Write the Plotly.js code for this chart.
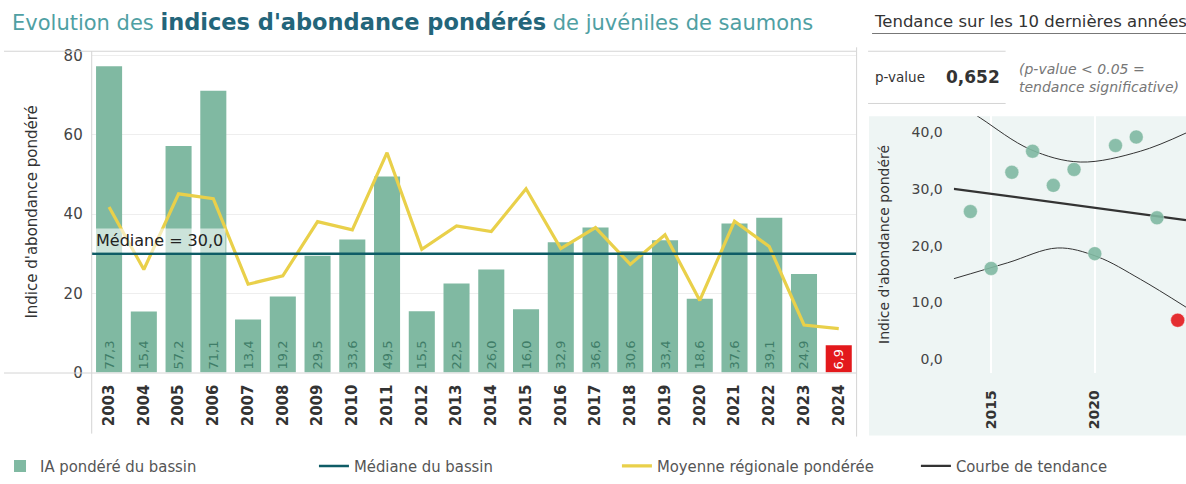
<!DOCTYPE html>
<html>
<head>
<meta charset="utf-8">
<script src="https://cdn.plot.ly/plotly-3.0.1.min.js"></script>
<style>
html,body{margin:0;padding:0;background:#fff;overflow:hidden;}
#chart{width:1186px;height:484px;}
</style>
</head>
<body>
<div id="chart"></div>
<script>
// ---------- data ----------
const years = ['2003','2004','2005','2006','2007','2008','2009','2010','2011','2012','2013','2014','2015','2016','2017','2018','2019','2020','2021','2022','2023','2024'];
const iaBassin = [77.3,15.4,57.2,71.1,13.4,19.2,29.5,33.6,49.5,15.5,22.5,26.0,16.0,32.9,36.6,30.6,33.4,18.6,37.6,39.1,24.9,6.9];
const moyenneRegionale = [41.8,26.0,45.1,43.9,22.3,24.4,38.1,36.0,55.5,31.1,37.0,35.6,46.4,31.3,36.6,27.3,34.8,18.2,38.2,31.8,12.0,11.1];
const medianeBassin = 30.0;
const highlightYear = '2024';
const recentCount = 11;
const pValue = '0,652';
const trendX = [2013.2, 2024.4];
const trendY = [30.0, 24.5];
const upperX = [2013.2, 2014.5, 2016.9, 2019.3, 2022.2, 2024.4];
const upperY = [45.6, 42.4, 36.9, 34.7, 36.6, 39.8];
const lowerX = [2013.2, 2015.8, 2018.2, 2020.1, 2022.2, 2024.4];
const lowerY = [14.2, 17.0, 19.6, 18.1, 14.1, 9.2];
const yTicksMain = [0, 20, 40, 60, 80];
const yTicksTrend = [0, 10, 20, 30, 40];
const xTicksTrend = [2015, 2020];

// ---------- helpers ----------
const W = 1186, H = 484;
const px = x => x / W;
const py = y => 1 - y / H;
const GREEN = '#80b9a2', RED = '#e3191c', YELLOW = '#e9d04a', TEAL = '#0e5c66', DARK = '#333333';
const FONT = 'DejaVu Sans, sans-serif';
const LEGFONT = {family: 'DejaVu Sans Condensed, DejaVu Sans, sans-serif', size: 16.5, color: '#555'};

const barColors = years.map(y => y === highlightYear ? RED : GREEN);
const barTextColors = years.map(y => y === highlightYear ? '#ffffff' : '#3f7d68');
const recentYears = years.slice(-recentCount).map(Number);
const recentVals = iaBassin.slice(-recentCount);
const recentColors = years.slice(-recentCount).map(y => y === highlightYear ? RED : GREEN);

const traces = [
  {
    type: 'bar', x: years, y: iaBassin, name: 'IA pondéré du bassin',
    marker: {color: barColors}, xaxis: 'x', yaxis: 'y',
    texttemplate: '%{y:.1f}', textposition: 'inside', insidetextanchor: 'start',
    textangle: -90, textfont: {family: FONT, size: 13, color: barTextColors},
    hoverinfo: 'x+y', legend: 'legend'
  },
  {
    type: 'scatter', mode: 'lines', x: [0, 1], y: [medianeBassin, medianeBassin],
    name: 'Médiane du bassin', line: {color: TEAL, width: 2.5},
    xaxis: 'x3', yaxis: 'y', legend: 'legend2'
  },
  {
    type: 'scatter', mode: 'lines', x: years, y: moyenneRegionale,
    name: 'Moyenne régionale pondérée', line: {color: YELLOW, width: 3.2},
    xaxis: 'x', yaxis: 'y', legend: 'legend3'
  },
  {
    type: 'scatter', mode: 'lines', x: upperX, y: upperY, line: {color: DARK, width: 1, shape: 'spline'},
    xaxis: 'x2', yaxis: 'y2', showlegend: false, hoverinfo: 'skip'
  },
  {
    type: 'scatter', mode: 'lines', x: lowerX, y: lowerY, line: {color: DARK, width: 1, shape: 'spline'},
    xaxis: 'x2', yaxis: 'y2', showlegend: false, hoverinfo: 'skip'
  },
  {
    type: 'scatter', mode: 'lines', x: trendX, y: trendY, name: 'Courbe de tendance',
    line: {color: DARK, width: 2.2}, xaxis: 'x2', yaxis: 'y2', legend: 'legend4'
  },
  {
    type: 'scatter', mode: 'markers', x: recentYears, y: recentVals,
    marker: {color: recentColors, size: 14, opacity: 0.9, line: {color: 'rgba(255,255,255,0.4)', width: 1}},
    xaxis: 'x2', yaxis: 'y2', showlegend: false, cliponaxis: false
  }
];

const legendBase = {orientation: 'h', yanchor: 'middle', xanchor: 'left', y: py(473),
  font: LEGFONT, bgcolor: 'rgba(0,0,0,0)', traceorder: 'normal'};

const gridLine = '#d4d4d4';
const layout = {
  width: W, height: H,
  margin: {l: 0, r: 0, t: 0, b: 0},
  paper_bgcolor: '#ffffff', plot_bgcolor: 'rgba(0,0,0,0)',
  separators: ', ',
  font: {family: FONT, color: '#444'},
  bargap: 0.25,
  showlegend: true,
  legend: Object.assign({}, legendBase, {x: px(-4)}),
  legend2: Object.assign({}, legendBase, {x: px(311)}),
  legend3: Object.assign({}, legendBase, {x: px(615)}),
  legend4: Object.assign({}, legendBase, {x: px(915)}),
  xaxis: {
    domain: [px(88), px(855)], type: 'category', anchor: 'y',
    tickangle: -90, tickfont: {family: FONT, size: 15, color: '#333', weight: 'bold'},
    ticklabelstandoff: 8,
    showgrid: false, showline: false, ticks: '', zeroline: false
  },
  xaxis3: {overlaying: 'x', range: [0, 1], visible: false, anchor: 'y'},
  yaxis: {
    domain: [py(378), py(52)], range: [0, 81.1], anchor: 'x',
    tickvals: yTicksMain, tickformat: 'd', tickfont: {family: FONT, size: 15, color: '#444'},
    showgrid: true, gridcolor: '#eeeeee', zeroline: false, showline: false, ticks: '',
    ticklabelstandoff: 8,
    title: {text: "Indice d'abondance pondéré", font: {family: FONT, size: 15, color: '#333'}, standoff: 22},
    automargin: false
  },
  xaxis2: {
    domain: [px(953), 1], range: [2013.2, 2024.4], anchor: 'y2',
    tickvals: xTicksTrend, tickangle: -90, tickformat: 'd',
    tickfont: {family: FONT, size: 14, color: '#333', weight: 'bold'},
    ticklabelstandoff: 14,
    showgrid: true, gridcolor: '#ffffff', gridwidth: 1.5, zeroline: false, showline: false, ticks: ''
  },
  yaxis2: {
    domain: [py(378), py(118)], range: [-2.29, 42.74], anchor: 'x2',
    tickvals: yTicksTrend, tickformat: '.1f', tickfont: {family: FONT, size: 14, color: '#444'},
    showgrid: false, zeroline: false, showline: false, ticks: '', ticklabelstandoff: 10,
    title: {text: "Indice d'abondance pondéré", font: {family: FONT, size: 14, color: '#333'}, standoff: 18},
    automargin: false
  },
  shapes: [
    {type: 'rect', xref: 'paper', yref: 'paper', x0: px(868), x1: 1, y0: py(442), y1: py(118),
      fillcolor: '#eef5f4', line: {width: 0}, layer: 'below'},
    {type: 'line', xref: 'paper', yref: 'paper', x0: 0, x1: px(855), y0: py(52), y1: py(52), line: {color: gridLine, width: 1}},
    {type: 'line', xref: 'paper', yref: 'paper', x0: 0, x1: px(855), y0: py(378.5), y1: py(378.5), line: {color: gridLine, width: 1}},
    {type: 'line', xref: 'paper', yref: 'paper', x0: px(88), x1: px(88), y0: py(52), y1: py(440), line: {color: gridLine, width: 1}},
    {type: 'line', xref: 'paper', yref: 'paper', x0: px(855.5), x1: px(855.5), y0: py(48), y1: py(443), line: {color: gridLine, width: 1}},
    {type: 'line', xref: 'paper', yref: 'paper', x0: px(867), x1: px(1005), y0: py(52), y1: py(52), line: {color: gridLine, width: 1}},
    {type: 'line', xref: 'paper', yref: 'paper', x0: px(867), x1: px(1005), y0: py(105), y1: py(105), line: {color: gridLine, width: 1}},
    {type: 'line', xref: 'paper', yref: 'paper', x0: px(871), x1: 1, y0: py(34), y1: py(34), line: {color: '#777', width: 1.2}}
  ],
  annotations: [
    {xref: 'paper', yref: 'paper', x: px(6), y: py(22), xanchor: 'left', yanchor: 'middle', showarrow: false,
      text: "<span style='color:#4fa0a3;font-size:21px'>Evolution des </span><b><span style='color:#23657a;font-size:22.5px'>indices d'abondance pondérés</span></b><span style='color:#4fa0a3;font-size:21px'> de juvéniles de saumons</span>",
      font: {family: FONT, size: 21}},
    {xref: 'paper', yref: 'paper', x: px(871), y: py(22), xanchor: 'left', yanchor: 'middle', showarrow: false,
      text: 'Tendance sur les 10 dernières années', font: {family: FONT, size: 16.5, color: '#333'}},
    {xref: 'paper', yref: 'paper', x: px(872), y: py(78), xanchor: 'left', yanchor: 'middle', showarrow: false,
      text: 'p-value', font: {family: FONT, size: 13.5, color: '#333'}},
    {xref: 'paper', yref: 'paper', x: px(943), y: py(78), xanchor: 'left', yanchor: 'middle', showarrow: false,
      text: '<b>' + pValue + '</b>', font: {family: FONT, size: 17, color: '#333'}},
    {xref: 'paper', yref: 'paper', x: px(1016), y: py(79), xanchor: 'left', yanchor: 'middle', showarrow: false, align: 'left',
      text: '<i>(p-value &lt; 0.05 =<br>tendance significative)</i>', font: {family: FONT, size: 14, color: '#777'}},
    {xref: 'paper', x: px(89), y: medianeBassin, xanchor: 'left', yanchor: 'bottom', showarrow: false,
      yref: 'y',
      text: 'Médiane = ' + medianeBassin.toFixed(1).replace('.', ','), font: {family: FONT, size: 16, color: '#222'},
      bgcolor: 'rgba(255,255,255,0.6)', borderpad: 2, yshift: 1}
  ]
};

Plotly.newPlot('chart', traces, layout, {displayModeBar: false, staticPlot: true});
</script>
</body>
</html>
